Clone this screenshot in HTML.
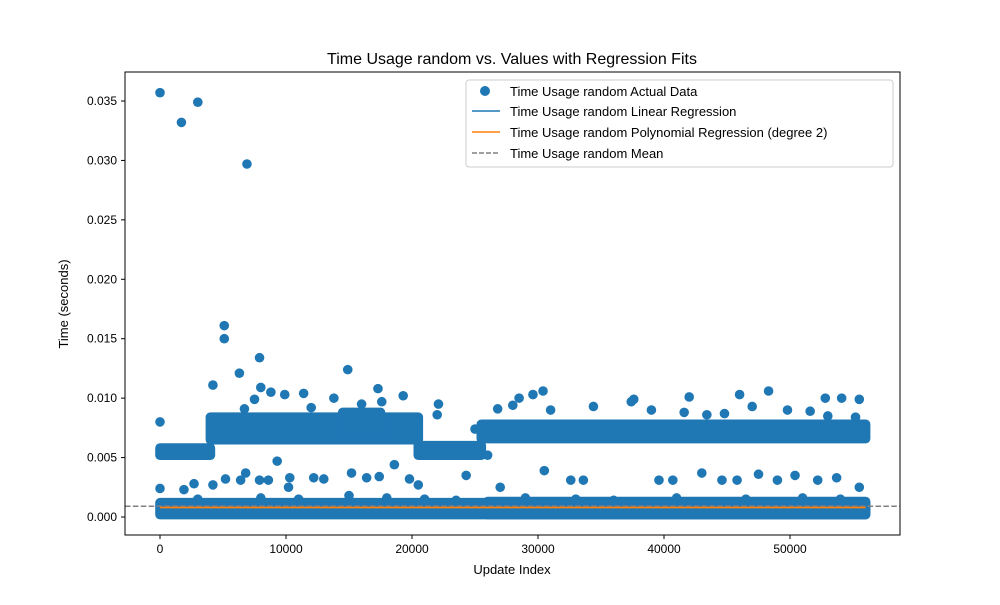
<!DOCTYPE html>
<html><head><meta charset="utf-8"><style>
body{margin:0;background:#fff;font-family:"Liberation Sans",sans-serif}
text{font-family:"Liberation Sans",sans-serif;fill:#000}
</style></head><body>
<svg id="chart" width="1000" height="600">
<rect width="1000" height="600" fill="#fff"/>
<text x="512" y="64" font-size="16" text-anchor="middle">Time Usage random vs. Values with Regression Fits</text>
<g id="plot"></g>
<rect x="125" y="72" width="775" height="463" fill="none" stroke="#000" stroke-width="1"/>
<g id="ticks"></g>
<text x="512" y="574" font-size="13" text-anchor="middle">Update Index</text>
<text transform="translate(68,304) rotate(-90)" font-size="13" text-anchor="middle">Time (seconds)</text>
<g>
<rect x="466" y="80" width="427" height="87" rx="3" fill="#fff" fill-opacity="0.8" stroke="#ccc"/>
<circle cx="485" cy="91" r="5" fill="#1f77b4"/>
<text x="510" y="96" font-size="13">Time Usage random Actual Data</text>
<line x1="472" x2="500" y1="111" y2="111" stroke="#1f77b4" stroke-width="1.5"/>
<text x="510" y="116" font-size="13">Time Usage random Linear Regression</text>
<line x1="472" x2="500" y1="132" y2="132" stroke="#ff7f0e" stroke-width="1.5"/>
<text x="510" y="137" font-size="13">Time Usage random Polynomial Regression (degree 2)</text>
<line x1="472" x2="500" y1="153" y2="153" stroke="#808080" stroke-width="1.5" stroke-dasharray="5,2"/>
<text x="510" y="158" font-size="13">Time Usage random Mean</text>
</g>
</svg>
<script>
const xTicks=[0,10000,20000,30000,40000,50000];
const yTicks=[0,0.005,0.01,0.015,0.02,0.025,0.03,0.035];
const yTickLabels=["0.000","0.005","0.010","0.015","0.020","0.025","0.030","0.035"];
// dense clouds: [xStart, xEnd, yLow, yHigh]
const bandX0=[0,4000,20500,25500,0,14500,26000];
const bandX1=[4000,20500,25500,56000,56000,17500,56000];
const bandLo=[0.0052,0.0065,0.0052,0.0066,0.0002,0.0070,0.0002];
const bandHi=[0.0058,0.0084,0.0060,0.0078,0.0012,0.0088,0.0013];
const outX=[0,1700,3000,6900,5100,5100,6300,7900,4200,8000,8800,9900,11400,14900,13800,17300,19300,22100,0,30400,29600,28500,48300,42000,46000,52800,55500,54100,37600,18600,9300,6800,26000,30500,0,15200,22000,20500,24300,27000,47500,43000,50400,53700,55500,2700,4200,5200,6400,7900,8600,10300,12200,13000,16400,17400,19800,32600,33600,39600,40700,44600,45800,49000,52200,1900,10200,6700,7500,12000,16000,17600,25000,26800,28000,31000,34400,37400,39000,41600,43400,44800,47000,49800,51600,53000,55200,3000,8000,11000,15000,18000,21000,23500,29000,33000,36000,41000,46500,51000,54000];
const outY=[0.0357,0.0332,0.0349,0.0297,0.0161,0.0150,0.0121,0.0134,0.0111,0.0109,0.0105,0.0103,0.0104,0.0124,0.0100,0.0108,0.0102,0.0095,0.0080,0.0106,0.0103,0.0100,0.0106,0.0101,0.0103,0.0100,0.0099,0.0100,0.0099,0.0044,0.0047,0.0037,0.0052,0.0039,0.0024,0.0037,0.0086,0.0027,0.0035,0.0025,0.0036,0.0037,0.0035,0.0033,0.0025,0.0028,0.0027,0.0032,0.0031,0.0031,0.0031,0.0033,0.0033,0.0032,0.0033,0.0034,0.0032,0.0031,0.0031,0.0031,0.0031,0.0031,0.0031,0.0031,0.0031,0.0023,0.0025,0.0091,0.0099,0.0092,0.0095,0.0097,0.0074,0.0091,0.0094,0.0090,0.0093,0.0097,0.0090,0.0088,0.0086,0.0087,0.0093,0.0090,0.0089,0.0085,0.0084,0.0015,0.0016,0.0015,0.0018,0.0016,0.0015,0.0014,0.0016,0.0015,0.0014,0.0016,0.0015,0.0016,0.0015];
const meanVal=0.0009, fitVal=0.0008, fitX0=0, fitX1=56000;
const NS="http://www.w3.org/2000/svg";
const X=v=>160+v*0.0126, Y=v=>517-v*(416/0.035);
const plot=document.getElementById('plot'), tk=document.getElementById('ticks');
function mk(t,a,p){const e=document.createElementNS(NS,t);for(const k in a)e.setAttribute(k,a[k]);p.appendChild(e);return e;}
const r=4.8;
for(let i=0;i<bandX0.length;i++){
 const e=mk('rect',{x:X(bandX0[i])-r,y:Y(bandHi[i])-r,width:X(bandX1[i])-X(bandX0[i])+2*r,height:Y(bandLo[i])-Y(bandHi[i])+2*r,rx:r,fill:'#1f77b4'},plot);
 
 
}
for(let i=0;i<outX.length;i++){
 const c=mk('circle',{cx:X(outX[i]),cy:Y(outY[i]),r:r,fill:'#1f77b4'},plot);
 
 
}
let l=mk('line',{x1:125,x2:900,y1:Y(meanVal),y2:Y(meanVal),stroke:'#808080','stroke-width':1.5,'stroke-dasharray':'5.5,2.4'},plot);


l=mk('line',{x1:X(fitX0),x2:X(fitX1),y1:Y(fitVal),y2:Y(fitVal),stroke:'#1f77b4','stroke-width':1.5},plot);


l=mk('line',{x1:X(fitX0),x2:X(fitX1),y1:Y(fitVal),y2:Y(fitVal),stroke:'#ff7f0e','stroke-width':1.8},plot);


xTicks.forEach(v=>{
 mk('line',{x1:X(v),x2:X(v),y1:535,y2:539,stroke:'#000'},tk);
 const t=mk('text',{x:X(v),y:553,'font-size':12,'text-anchor':'middle'},tk);t.textContent=v;
 
 
});
yTicks.forEach((v,i)=>{
 mk('line',{x1:121,x2:125,y1:Y(v),y2:Y(v),stroke:'#000'},tk);
 const t=mk('text',{x:117,y:Y(v)+4,'font-size':12,'text-anchor':'end'},tk);t.textContent=yTickLabels[i];
 
 
});
</script>
</body></html>
